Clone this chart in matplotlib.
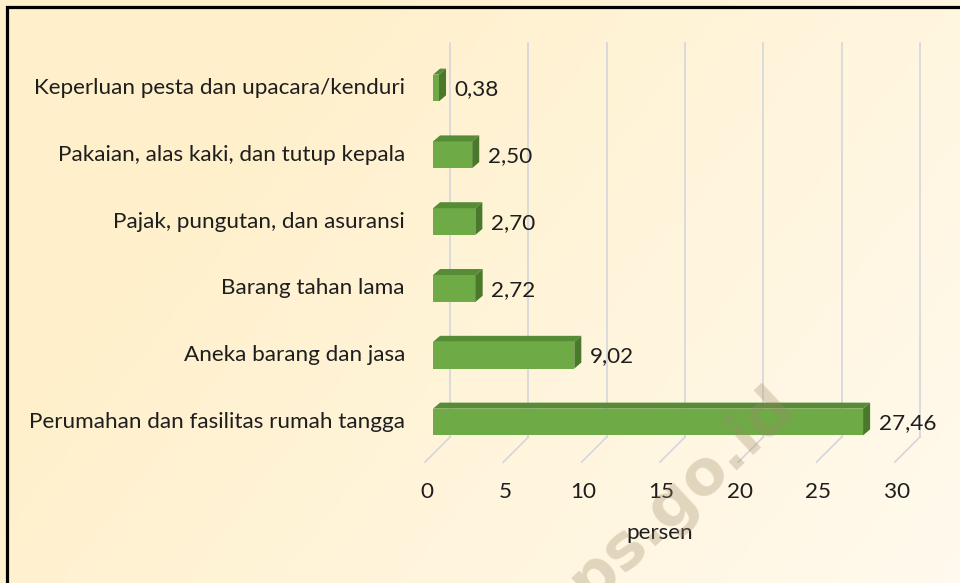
import numpy as np
import matplotlib.pyplot as plt
from matplotlib.patches import Polygon, Rectangle
from matplotlib.colors import to_rgb

categories = [
    "Perumahan dan fasilitas rumah tangga",
    "Aneka barang dan jasa",
    "Barang tahan lama",
    "Pajak, pungutan, dan asuransi",
    "Pakaian, alas kaki, dan tutup kepala",
    "Keperluan pesta dan upacara/kenduri",
]
values = [27.46, 9.02, 2.72, 2.70, 2.50, 0.38]
value_labels = ["27,46", "9,02", "2,72", "2,70", "2,50", "0,38"]
xticks = [0, 5, 10, 15, 20, 25, 30]

plt.rcParams["font.family"] = ["Lato", "DejaVu Sans"]
text_color = "#1E1E1E"
fs = 16.2

fig = plt.figure(figsize=(9.6, 5.83), dpi=100)
ax = fig.add_axes([0, 0, 1, 1])
ax.set_xlim(-27.65, 33.65)
ax.axis("off")

# background gradient (cream on the left, lighter toward bottom right)
gx, gy = np.meshgrid(np.linspace(0, 1, 200), np.linspace(0, 1, 120))
t = np.clip(0.75 * gx + 0.35 * (1 - gy) - 0.25, 0, 1)
c0 = np.array(to_rgb("#FFF0CB"))
c1 = np.array(to_rgb("#FFFCF4"))
img = c0 + (c1 - c0) * t[..., None]
ax.imshow(img, extent=(-27.65, 33.65, 6.317, -2.41), aspect="auto", zorder=0)
ax.set_ylim(-2.41, 6.317)

# 3d-ish gridlines: back wall + floor slant
back_dx, back_y = 1.09, -0.225
floor_dx, floor_y = -0.51, -0.6
top_y = 5.67
grid_color = "#D3D6DC"
for v in xticks:
    ax.plot([v + back_dx, v + back_dx], [back_y, top_y], color=grid_color, lw=1.2, zorder=1)
    ax.plot([v + back_dx, v + floor_dx], [back_y, floor_y], color=grid_color, lw=1.2, zorder=1)
    ax.text(v - 0.4, -1.05, str(v), ha="center", va="center", fontsize=fs, color=text_color)

ax.text(14.5, -1.66, "persen", ha="center", va="center", fontsize=fs, color=text_color)

# bars
h = 0.40
dx, dy = 0.45, 0.09
ypos = np.arange(len(values))
ax.barh(ypos, values, height=h, left=0, color="#6EAB46", zorder=3)
for y, v, lab, cat in zip(ypos, values, value_labels, categories):
    top = [(0, y + h / 2), (v, y + h / 2), (v + dx, y + h / 2 + dy), (dx, y + h / 2 + dy)]
    side = [(v, y - h / 2), (v, y + h / 2), (v + dx, y + h / 2 + dy), (v + dx, y - h / 2 + dy)]
    ax.add_patch(Polygon(top, closed=True, facecolor="#578C36", edgecolor="none", zorder=3))
    ax.add_patch(Polygon(side, closed=True, facecolor="#4A792C", edgecolor="none", zorder=3))
    ax.text(v + 1.0, y - 0.02, lab, ha="left", va="center", fontsize=fs, color=text_color, zorder=4)
    ax.text(-1.79, y, cat, ha="right", va="center", fontsize=fs, color=text_color, zorder=4)

# watermark
ax.text(14.9, -1.3, "bps.go.id", rotation=43, ha="center", va="center", fontsize=45,
        fontweight="bold", family="DejaVu Sans", color="#9C8868", alpha=0.3, zorder=5)

# frame (top and left edges visible)
fig.add_artist(Rectangle((6.5 / 960, -0.2), 1.2, 1.2 - 6.5 / 583, transform=fig.transFigure,
                         fill=False, edgecolor="black", lw=2.3))

fig.savefig("out.png", dpi=100)
